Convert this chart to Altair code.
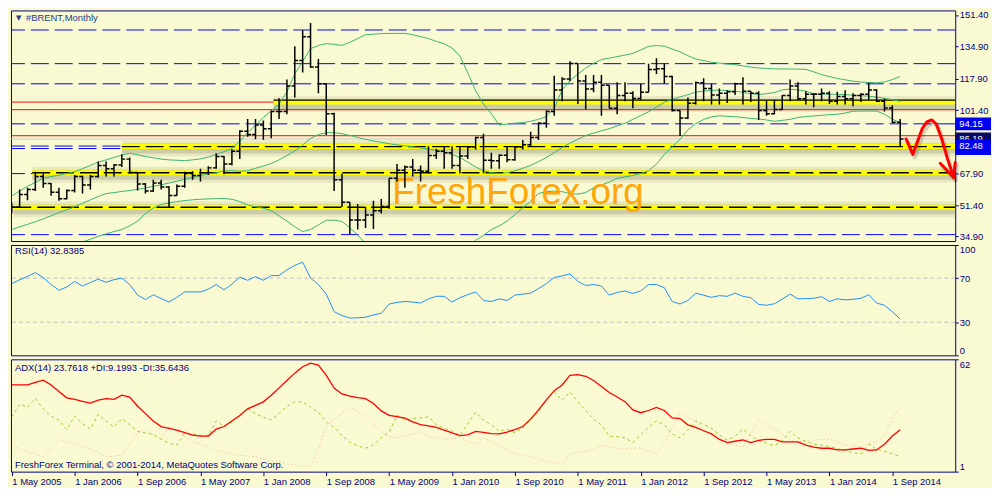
import json
import pandas as pd
import altair as alt

# ---------------- data ----------------
# monthly bars, May 2005 .. Oct 2014 (index 0 = May 2005)
opens = [49.5, 50.4, 57.0, 59.6, 66.5, 62.8, 58.2, 54.8, 59.1, 66.5,
         62.0, 66.5, 72.3, 70.5, 72.5, 75.6, 68.6, 62.5, 58.8, 63.0,
         61.0, 56.5, 61.3, 68.1, 67.0, 68.5, 71.0, 77.0, 73.1, 79.8,
         90.3, 88.5, 93.5, 91.6, 100.6, 100.6, 114.0, 127.5, 140.0, 124.0,
         115.2, 99.5, 64.7, 52.9, 43.6, 43.6, 46.2, 48.4, 50.7, 65.5,
         69.7, 71.4, 69.7, 69.2, 77.5, 79.8, 79.0, 72.3, 77.3, 82.0,
         87.0, 75.0, 74.8, 77.7, 75.3, 82.0, 83.2, 87.0, 94.5, 100.6,
         111.9, 117.7, 125.9, 116.7, 112.5, 116.0, 114.4, 102.3, 109.0, 110.2,
         107.5, 110.7, 122.7, 123.1, 119.1, 101.2, 97.2, 105.0, 115.7, 112.7,
         109.3, 110.2, 111.0, 115.2, 111.3, 110.2, 101.2, 99.5, 101.7, 109.0,
         114.0, 107.3, 109.7, 109.7, 110.2, 106.0, 108.5, 107.3, 109.0, 109.7,
         111.9, 106.0, 102.5, 95.0]
highs = [52.9, 59.6, 60.5, 68.9, 68.0, 63.0, 60.5, 59.6, 67.2, 66.9,
         67.2, 74.3, 74.3, 73.1, 78.2, 76.5, 68.6, 63.0, 64.7, 64.7,
         61.3, 62.2, 68.9, 69.2, 70.6, 71.9, 78.7, 77.3, 80.7, 90.8,
         96.7, 96.7, 95.9, 101.2, 107.6, 117.4, 134.9, 143.3, 147.2, 128.2,
         115.2, 100.0, 68.1, 52.9, 52.0, 50.4, 53.7, 54.6, 65.5, 73.1,
         72.3, 75.6, 72.3, 82.4, 81.0, 82.0, 82.4, 82.0, 82.4, 87.4,
         89.0, 79.0, 78.2, 82.0, 82.4, 85.7, 90.0, 95.0, 101.2, 119.4,
         118.6, 127.0, 126.2, 119.8, 119.8, 119.8, 114.4, 116.0, 116.0, 111.3,
         115.2, 125.8, 128.7, 125.8, 119.4, 101.2, 108.0, 116.4, 118.1, 115.2,
         112.7, 111.8, 115.7, 118.6, 111.3, 111.3, 106.3, 106.8, 109.3, 117.4,
         116.0, 111.3, 110.2, 112.7, 111.3, 111.0, 111.8, 110.2, 110.2, 115.7,
         112.4, 107.3, 103.9, 96.7]
lows = [47.0, 50.0, 54.0, 58.8, 60.5, 56.3, 53.7, 54.5, 58.0, 57.5,
        59.6, 66.0, 66.4, 66.4, 71.4, 68.0, 59.1, 57.5, 58.5, 59.6,
        50.0, 56.3, 60.5, 64.7, 63.9, 67.2, 70.6, 67.6, 72.3, 75.6,
        87.4, 86.1, 85.8, 86.6, 96.7, 99.2, 108.0, 121.1, 123.6, 110.2,
        88.3, 58.8, 50.4, 36.1, 38.6, 39.4, 38.9, 47.0, 49.5, 63.9,
        60.5, 66.4, 63.9, 68.1, 75.6, 70.6, 70.6, 68.1, 75.6, 80.7,
        68.1, 70.6, 70.6, 73.9, 74.8, 80.7, 82.0, 85.7, 92.1, 98.4,
        106.0, 116.5, 104.6, 101.8, 110.7, 98.4, 102.3, 99.2, 106.0, 102.3,
        106.8, 110.7, 120.3, 115.2, 100.6, 87.8, 96.7, 104.3, 106.0, 104.3,
        104.3, 105.1, 109.3, 104.3, 105.6, 96.2, 98.4, 99.2, 101.5, 106.0,
        106.8, 104.3, 102.9, 106.0, 104.6, 104.3, 104.3, 103.4, 105.6, 106.8,
        105.6, 100.6, 94.5, 82.4]
closes = [50.4, 57.0, 59.6, 66.5, 62.8, 58.2, 54.8, 59.1, 66.5, 62.0,
          66.5, 72.3, 70.5, 72.5, 75.6, 68.6, 62.5, 58.8, 63.0, 61.0,
          56.5, 61.3, 68.1, 67.0, 68.5, 71.0, 77.0, 73.1, 79.8, 90.3,
          88.5, 93.5, 91.6, 100.6, 100.6, 114.0, 127.5, 140.0, 124.0, 115.2,
          99.5, 64.7, 52.9, 43.6, 43.6, 46.2, 48.4, 50.7, 65.5, 69.7,
          71.4, 69.7, 69.2, 77.5, 79.8, 79.0, 72.3, 77.3, 82.0, 87.0,
          75.0, 74.8, 77.7, 75.3, 82.0, 83.2, 87.0, 94.5, 100.6, 111.9,
          117.7, 125.9, 116.7, 112.5, 116.0, 114.4, 102.3, 109.0, 110.2, 107.5,
          110.7, 122.7, 123.1, 119.1, 101.2, 97.2, 105.0, 115.7, 112.7, 109.3,
          110.2, 111.0, 115.2, 111.3, 110.2, 101.2, 99.5, 101.7, 109.0, 114.0,
          107.3, 109.7, 109.7, 110.2, 106.0, 108.5, 107.3, 109.0, 109.7, 111.9,
          106.0, 102.5, 95.0, 86.19]

bb_upper = [56.3, 58.8, 61.3, 63.4, 65.5, 66.4, 67.2, 68.1, 68.9, 70.6,
            72.3, 74.0, 75.2, 76.5, 77.7, 78.7, 77.9, 77.0, 76.3, 75.6,
            75.2, 75.0, 74.8, 75.2, 75.7, 76.7, 78.0, 79.5, 81.2, 85.0,
            89.5, 93.5, 97.5, 101.0, 104.5, 111.0, 120.5, 127.0, 133.7, 135.3,
            136.3, 136.0, 135.4, 137.0, 139.0, 141.0, 141.3, 141.6, 141.7, 141.7,
            141.7, 141.0, 140.0, 139.0, 137.5, 136.3, 134.0, 129.8, 121.0, 111.5,
            104.5, 99.5, 93.5, 94.0, 94.5, 94.8, 95.5, 96.5, 98.0, 102.6,
            112.0, 117.0, 120.3, 123.5, 126.0, 127.9, 128.7, 129.5, 130.3, 131.2,
            133.0, 134.9, 135.3, 135.0, 133.5, 132.0, 130.0, 128.2, 127.4, 126.5,
            126.1, 125.6, 125.3, 124.6, 124.0, 123.5, 123.3, 123.1, 123.0, 123.0,
            122.9, 122.8, 121.5, 120.0, 119.0, 118.0, 117.3, 116.6, 116.1, 115.9,
            115.7, 116.2, 117.4, 119.1]
bb_middle = [38.6, 40.0, 41.3, 42.7, 44.2, 45.8, 47.4, 49.0, 50.6, 52.4,
             54.2, 56.0, 57.5, 58.0, 58.6, 59.1, 59.7, 60.5, 61.3, 62.1,
             63.0, 64.0, 65.0, 66.0, 67.0, 67.8, 68.5, 69.3, 69.6, 69.2,
             69.5, 70.8, 72.0, 73.3, 75.2, 77.5, 79.9, 83.0, 86.5, 88.5,
             89.5, 89.5, 89.0, 88.0, 87.0, 86.0, 85.2, 84.4, 83.7, 83.1,
             82.6, 82.1, 81.5, 80.9, 80.3, 79.5, 78.0, 76.5, 74.0, 71.5,
             69.5, 68.5, 68.1, 68.4, 69.5, 70.8, 72.3, 74.3, 76.5, 79.0,
             81.7, 84.0, 86.0, 88.0, 89.3, 90.5, 91.6, 93.0, 94.5, 96.5,
             98.5, 100.5, 103.0, 105.5, 107.0, 108.3, 109.5, 110.8, 111.4, 111.7,
             111.9, 111.6, 111.3, 110.7, 110.0, 109.6, 110.0, 110.6, 112.0, 112.4,
             112.0, 111.3, 110.0, 109.7, 109.7, 109.7, 109.5, 109.2, 109.0, 108.7,
             108.2, 107.6, 106.8, 106.0]
bb_lower = [21.0, 21.5, 22.5, 23.5, 24.5, 26.0, 27.5, 29.0, 30.5, 32.0,
            33.5, 35.0, 36.3, 37.5, 38.6, 40.5, 43.0, 47.0, 50.0, 51.8,
            52.6, 53.3, 53.8, 54.2, 54.5, 54.7, 54.8, 54.9, 54.5, 53.3,
            51.5, 50.5, 49.8, 48.5, 45.8, 43.0, 40.0, 37.5, 38.6, 41.0,
            43.5, 43.5, 42.8, 39.5, 35.8, 31.0, 29.0, 27.0, 25.5, 24.5,
            23.5, 23.0, 22.8, 22.6, 22.4, 22.3, 22.5, 23.5, 29.0, 33.0,
            35.5, 38.6, 40.5, 43.0, 46.5, 50.0, 53.5, 57.5, 58.5, 58.8,
            58.5, 57.5, 57.2, 58.0, 60.5, 62.0, 63.5, 65.5, 66.3, 67.0,
            68.0, 69.5, 73.0, 78.0, 82.0, 86.0, 91.0, 94.2, 96.5, 97.8,
            98.4, 98.1, 97.9, 97.5, 97.0, 96.7, 96.2, 95.5, 96.0, 96.5,
            97.5, 98.0, 98.3, 98.6, 99.0, 99.2, 99.8, 100.8, 100.9, 100.9,
            100.9, 99.2, 96.7, 94.7]

rsi = [65.1, 68.5, 71.4, 75.0, 70.5, 64.2, 59.0, 62.0, 67.0, 62.8,
       66.0, 69.0, 66.2, 68.6, 70.0, 64.2, 54.6, 50.6, 54.9, 51.5,
       48.3, 52.6, 57.5, 57.5, 57.5, 59.9, 64.2, 59.3, 64.5, 70.9,
       68.0, 71.4, 68.0, 72.3, 72.3, 77.5, 81.5, 84.5, 70.0, 64.2,
       55.5, 39.6, 36.1, 33.8, 34.0, 34.6, 36.7, 38.1, 46.5, 48.0,
       48.8, 48.3, 47.4, 51.2, 53.5, 53.5, 48.3, 52.3, 55.0, 57.5,
       49.7, 48.8, 51.2, 49.7, 54.6, 55.5, 56.4, 60.5, 65.0, 70.6,
       72.0, 73.8, 67.1, 63.3, 64.2, 62.8, 54.6, 57.0, 58.4, 56.1,
       58.4, 64.2, 64.2, 61.3, 48.8, 46.5, 49.7, 56.4, 54.5, 52.6,
       54.1, 53.5, 56.4, 53.5, 52.3, 46.2, 45.4, 46.8, 51.0, 55.5,
       51.2, 51.5, 51.7, 53.2, 48.8, 51.2, 50.3, 50.8, 51.7, 54.9,
       47.4, 45.4, 39.6, 32.84]

adx = [48.1, 48.1, 48.1, 49.5, 50.7, 48.1, 44.5, 41.1, 40.2, 39.2,
       38.2, 39.8, 40.6, 40.3, 42.5, 41.5, 36.5, 32.5, 28.5, 25.5,
       24.5, 23.5, 22.2, 20.8, 20.3, 20.3, 24.1, 25.5, 28.5, 31.5,
       35.1, 37.0, 38.9, 42.5, 46.5, 50.5, 54.5, 58.0, 59.9, 58.9,
       53.3, 46.4, 43.2, 42.0, 41.2, 40.6, 38.0, 34.0, 31.6, 30.9,
       30.0, 28.0, 26.5, 25.8, 25.0, 23.5, 22.0, 20.6, 21.0, 22.9,
       22.3, 21.6, 21.5, 22.5, 23.8, 25.5, 29.5, 34.5, 40.0, 45.0,
       48.1, 53.3, 53.7, 52.8, 50.5, 47.2, 44.0, 41.5, 39.0, 34.5,
       33.0, 34.2, 35.9, 34.2, 30.2, 29.8, 26.4, 25.0, 23.2, 21.5,
       18.5, 16.8, 17.5, 18.2, 16.8, 18.0, 18.5, 18.5, 17.2, 17.2,
       17.2, 15.4, 14.3, 13.7, 13.7, 12.8, 12.8, 13.3, 13.8, 12.5,
       12.8, 15.9, 20.3, 23.76]
plus_di = [30.7, 37.7, 35.9, 40.8, 35.1, 31.0, 29.0, 23.8, 31.1, 27.0,
           24.1, 32.1, 28.5, 25.2, 29.8, 26.5, 22.9, 22.0, 21.2, 18.5,
           16.5, 15.4, 22.0, 21.5, 20.8, 20.6, 28.5, 25.5, 28.1, 31.5,
           35.4, 32.5, 30.5, 29.0, 32.5, 36.5, 38.9, 38.9, 36.0, 33.3,
           28.0, 25.0, 20.6, 17.0, 15.0, 13.7, 15.5, 19.5, 22.4, 31.6,
           29.0, 29.8, 30.2, 30.7, 26.5, 24.6, 23.0, 20.6, 27.0, 33.3,
           29.0, 26.4, 22.9, 24.1, 22.0, 25.0, 29.0, 33.5, 40.0, 44.3,
           39.8, 44.3, 39.0, 34.2, 29.5, 26.4, 20.3, 20.0, 19.4, 16.8,
           21.0, 25.0, 28.6, 26.4, 21.5, 19.4, 23.8, 28.6, 26.5, 24.6,
           21.0, 18.2, 20.3, 24.1, 20.6, 17.7, 16.5, 15.1, 17.7, 22.9,
           19.4, 17.5, 15.9, 15.3, 14.7, 13.5, 12.5, 11.3, 10.5, 15.9,
           13.3, 12.0, 10.7, 9.2]
minus_di = [15.1, 13.5, 12.0, 10.5, 9.0, 14.0, 18.5, 17.0, 15.9, 14.5,
            13.3, 11.5, 9.0, 9.5, 9.9, 16.0, 22.0, 23.8, 21.0, 18.5,
            25.5, 23.0, 20.3, 17.5, 15.9, 14.5, 12.5, 11.5, 10.5, 9.9,
            9.5, 9.0, 8.0, 7.0, 6.4, 5.2, 4.6, 4.2, 3.8, 13.3,
            25.5, 29.5, 33.0, 35.9, 33.5, 31.6, 27.2, 22.5, 20.3, 19.4,
            20.3, 21.5, 22.9, 20.3, 19.5, 18.5, 19.0, 19.4, 17.5, 15.9,
            19.4, 17.0, 15.1, 12.5, 11.0, 10.0, 9.0, 8.0, 6.7, 6.0,
            5.0, 10.7, 11.3, 11.9, 13.5, 15.1, 14.5, 13.7, 13.7, 13.7,
            13.7, 12.0, 10.7, 16.8, 25.0, 32.8, 30.5, 28.1, 24.0, 21.0,
            19.0, 17.7, 15.5, 14.2, 22.0, 29.3, 26.5, 24.5, 21.5, 18.0,
            16.8, 17.5, 18.2, 18.5, 18.9, 17.0, 15.4, 15.0, 14.6, 16.0,
            17.7, 20.5, 30.0, 35.64]

tick_labels = ["1 May 2005", "1 Jan 2006", "1 Sep 2006", "1 May 2007", "1 Jan 2008",
               "1 Sep 2008", "1 May 2009", "1 Jan 2010", "1 Sep 2010", "1 May 2011",
               "1 Jan 2012", "1 Sep 2012", "1 May 2013", "1 Jan 2014", "1 Sep 2014"]
price_ticks = [34.90, 51.40, 67.90, 101.40, 117.90, 134.90, 151.40]
rsi_ticks = [0, 30, 70, 100]
adx_ticks = [1, 62]

blue_levels = [143.5, 125.8, 115.2, 94.15, 82.48, 81.16, 68.0, 35.9]
red_levels = [105.6, 101.6, 87.9]
bid_level = 86.19
support_levels = [105.6, 82.2, 68.4, 50.3]     # yellow-highlighted lines
support_from = [33.3, 14.0, 2.6, 0.2]          # bar index where each starts
support_dashed = [False, True, True, True]
price_tags = [81.16, 86.19, 82.48, 94.15]
tag_colors = ["#0000F0", "#0A0A64", "#0000F0", "#0000F0"]
tag_texts = ["", "86.19", "82.48", "94.15"]

arrow_i = [113.75, 114.6, 115.8, 116.4, 117.0, 117.6, 118.3, 119.0, 119.8]
arrow_p = [86.2, 78.1, 91.6, 95.2, 96.2, 94.0, 86.0, 76.0, 66.0]
head_i = [118.1, 119.8, 120.0]
head_p = [73.4, 66.0, 73.8]

# ---------------- styling / layout ----------------
NAVY = "#000080"
BG = "#FAFAD2"
FONT = "Liberation Sans"
W, H1, H2, H3 = 950, 232, 111, 113
X_END = 120.0
xs = alt.Scale(domain=[-0.1, X_END], nice=False, zero=False)
ys = alt.Scale(domain=[32.53, 153.77], nice=False, zero=False)
rs = alt.Scale(domain=[0, 100], nice=False, zero=False)
ds = alt.Scale(domain=[1, 62], nice=False, zero=False)

n = len(closes)
idx = list(range(n))
bars = pd.DataFrame(dict(i=idx, open=opens, high=highs, low=lows, close=closes))
bars["il"] = bars["i"] - 0.42
bars["ir"] = bars["i"] + 0.42
ind = pd.DataFrame(dict(i=idx, upper=bb_upper, middle=bb_middle, lower=bb_lower,
                        rsi=rsi, adx=adx, pdi=plus_di, mdi=minus_di))


def raxis(values, fmt=None):
    kw = dict(orient="right", values=values, title=None, grid=False, tickSize=3,
              labelPadding=1, domain=False, labelFlush=True)
    if fmt:
        kw["format"] = fmt
    return alt.Axis(**kw)


price_axis = raxis(price_ticks, ".2f")
rsi_axis = raxis(rsi_ticks)
adx_axis = raxis(adx_ticks)
x_axis = alt.Axis(values=list(range(0, 8 * len(tick_labels), 8)),
                  labelExpr=f"{json.dumps(tick_labels)}[round(datum.value / 8)]",
                  orient="bottom", title=None, grid=False, tickSize=4, labelAlign="left",
                  labelPadding=1, labelFlush=False, labelOverlap=False, domain=False)


def X(f, axis=None):
    return alt.X(f"{f}:Q", scale=xs, axis=axis)


def YP(f):
    return alt.Y(f"{f}:Q", scale=ys, axis=price_axis)


def label(text, x, y, size=9.5, color=NAVY, font=FONT):
    return alt.Chart(pd.DataFrame({"t": [text]})).mark_text(
        align="left", baseline="middle", font=font, fontSize=size, color=color
    ).encode(x=alt.value(x), y=alt.value(y), text="t:N")


# ---- main price panel ----
sup = pd.DataFrame(dict(p=support_levels, start=support_from,
                        end=[X_END] * len(support_levels), dashed=support_dashed))
sup_dash = sup[sup["dashed"]]
sup_solid = sup[~sup["dashed"]]

layers = [
    alt.Chart(pd.DataFrame({"p": blue_levels})).mark_rule(
        color="#0000FF", strokeWidth=1, strokeDash=[18, 6], clip=True).encode(y=YP("p")),
    alt.Chart(pd.DataFrame({"p": red_levels})).mark_rule(
        color="#FF0000", strokeWidth=1, clip=True).encode(y=YP("p")),
    alt.Chart(pd.DataFrame({"p": [bid_level]})).mark_rule(
        color="#C8C8C8", strokeWidth=1, clip=True).encode(y=YP("p")),
    alt.Chart(sup).mark_rule(color="#50503A", strokeWidth=16, opacity=0.10, yOffset=2,
                             clip=True).encode(x=X("start"), x2="end:Q", y=YP("p")),
    alt.Chart(sup).mark_rule(color="#50503A", strokeWidth=10, opacity=0.18, yOffset=2,
                             clip=True).encode(x=X("start"), x2="end:Q", y=YP("p")),
    alt.Chart(sup).mark_rule(color="#FFFF00", strokeWidth=5, clip=True).encode(
        x=X("start"), x2="end:Q", y=YP("p")),
    alt.Chart(sup_dash).mark_rule(color="#000000", strokeWidth=1.4, strokeDash=[18, 6],
                                  clip=True).encode(x=X("start"), x2="end:Q", y=YP("p")),
    alt.Chart(sup_solid).mark_rule(color="#000000", strokeWidth=1.2, yOffset=-2,
                                   clip=True).encode(x=X("start"), x2="end:Q", y=YP("p")),
    alt.Chart(ind).mark_line(color="#3CB371", strokeWidth=1, clip=True).encode(x=X("i"), y=YP("upper")),
    alt.Chart(ind).mark_line(color="#3CB371", strokeWidth=1, clip=True).encode(x=X("i"), y=YP("middle")),
    alt.Chart(ind).mark_line(color="#3CB371", strokeWidth=1, clip=True).encode(x=X("i"), y=YP("lower")),
    alt.Chart(pd.DataFrame({"i": [48.4], "p": [52.2], "t": ["FreshForex.org"]})).mark_text(
        align="left", baseline="alphabetic", font=FONT, fontSize=37, color="#FFA200", opacity=0.95
    ).encode(x=X("i"), y=YP("p"), text="t:N"),
    alt.Chart(bars).mark_rule(color="#000000", strokeWidth=1.5, clip=True).encode(
        x=X("i"), y=YP("low"), y2="high:Q"),
    alt.Chart(bars).mark_rule(color="#000000", strokeWidth=1.5, clip=True).encode(
        x=X("il"), x2="i:Q", y=YP("open")),
    alt.Chart(bars).mark_rule(color="#000000", strokeWidth=1.5, clip=True).encode(
        x=X("i"), x2="ir:Q", y=YP("close")),
]

arrow = pd.DataFrame(dict(i=arrow_i, p=arrow_p, k=range(len(arrow_i))))
head = pd.DataFrame(dict(i=head_i, p=head_p, k=range(len(head_i))))
for d in (arrow, head):
    layers.append(alt.Chart(d).mark_line(color="#000000", strokeWidth=4, opacity=0.15,
                                         xOffset=2, yOffset=3, strokeCap="round", strokeJoin="round")
                  .encode(x=X("i"), y=YP("p"), order="k:Q"))
for d in (arrow, head):
    layers.append(alt.Chart(d).mark_line(color="#FF0000", strokeWidth=3,
                                         strokeCap="round", strokeJoin="round")
                  .encode(x=X("i"), y=YP("p"), order="k:Q"))

layers.append(label("\u25BC", 5, 8, size=7, color="#283C8C", font="DejaVu Sans"))
layers.append(label("#BRENT,Monthly", 15, 8, color="#283C8C"))

for v, c, t in zip(price_tags, tag_colors, tag_texts):
    d = pd.DataFrame({"p": [v], "t": [t]})
    layers.append(alt.Chart(d).mark_rect(color=c, yOffset=-6.5, y2Offset=6.5).encode(
        x=alt.value(W), x2=alt.value(W + 36), y=YP("p"), y2="p:Q"))
    if t:
        layers.append(alt.Chart(d).mark_text(align="left", baseline="middle", font=FONT,
                                             fontSize=9.5, color="#FFFFFF").encode(
            x=alt.value(W + 4), y=YP("p"), text="t:N"))

main = alt.layer(*layers).properties(width=W, height=H1)

# ---- RSI panel ----
rsi_chart = alt.layer(
    alt.Chart(pd.DataFrame({"v": [30, 70]})).mark_rule(
        color="#C0C0C0", strokeWidth=1, strokeDash=[4, 3], clip=True).encode(
        y=alt.Y("v:Q", scale=rs, axis=rsi_axis)),
    alt.Chart(ind).mark_line(color="#1E90FF", strokeWidth=1).encode(
        x=X("i"), y=alt.Y("rsi:Q", scale=rs, axis=rsi_axis)),
    label("RSI(14) 32.8385", 4, 6.5),
).properties(width=W, height=H2)

# ---- ADX panel ----
def YD(f):
    return alt.Y(f"{f}:Q", scale=ds, axis=adx_axis)


adx_chart = alt.layer(
    alt.Chart(ind).mark_line(color="#F5D2B0", strokeWidth=1, strokeDash=[2, 2]).encode(
        x=X("i", x_axis), y=YD("mdi")),
    alt.Chart(ind).mark_line(color="#9ACD32", strokeWidth=1, strokeDash=[3, 3]).encode(
        x=X("i", x_axis), y=YD("pdi")),
    alt.Chart(ind).mark_line(color="#FF0000", strokeWidth=1.3).encode(
        x=X("i", x_axis), y=YD("adx")),
    label("ADX(14) 23.7618 +DI:9.1993 -DI:35.6436", 4, 9),
    label("FreshForex Terminal, \u00A9 2001-2014, MetaQuotes Software Corp.", 4, H3 - 7),
).properties(width=W, height=H3)

chart = (
    alt.vconcat(main, rsi_chart, adx_chart, spacing=2)
    .properties(background=BG, padding=0)
    .configure_view(stroke=NAVY, strokeWidth=1)
    .configure_axis(labelFont=FONT, labelFontSize=9.5, labelColor=NAVY,
                    tickColor=NAVY, domainColor=NAVY, tickWidth=1)
)

chart.save("out.html", embed_options={"renderer": "svg", "actions": False})
